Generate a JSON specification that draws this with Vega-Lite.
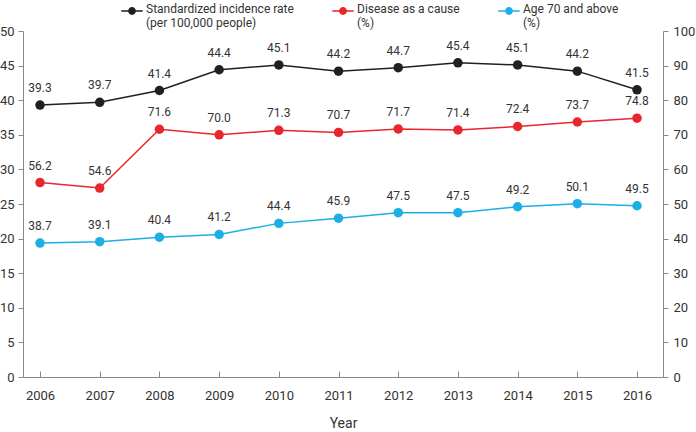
{
  "$schema": "https://vega.github.io/schema/vega-lite/v6.json",
  "width": 640,
  "height": 346,
  "autosize": {"type": "none"},
  "padding": {"left": 23, "top": 31, "right": 33, "bottom": 55},
  "background": "white",
  "config": {
    "font": "Liberation Sans Narrow, Roboto, sans-serif",
    "view": {"stroke": null},
    "axis": {"grid": false, "domainColor": "#888888", "tickColor": "#888888", "labelColor": "#333333", "labelFontSize": 13, "titleColor": "#333333", "titleFontWeight": "normal", "titleFontSize": 14}
  },
  "data": {
    "values": [
      {"year": 2006, "series": "Standardized incidence rate|(per 100,000 people)", "value": 39.3},
      {"year": 2007, "series": "Standardized incidence rate|(per 100,000 people)", "value": 39.7},
      {"year": 2008, "series": "Standardized incidence rate|(per 100,000 people)", "value": 41.4},
      {"year": 2009, "series": "Standardized incidence rate|(per 100,000 people)", "value": 44.4},
      {"year": 2010, "series": "Standardized incidence rate|(per 100,000 people)", "value": 45.1},
      {"year": 2011, "series": "Standardized incidence rate|(per 100,000 people)", "value": 44.2},
      {"year": 2012, "series": "Standardized incidence rate|(per 100,000 people)", "value": 44.7},
      {"year": 2013, "series": "Standardized incidence rate|(per 100,000 people)", "value": 45.4},
      {"year": 2014, "series": "Standardized incidence rate|(per 100,000 people)", "value": 45.1},
      {"year": 2015, "series": "Standardized incidence rate|(per 100,000 people)", "value": 44.2},
      {"year": 2016, "series": "Standardized incidence rate|(per 100,000 people)", "value": 41.5},
      {"year": 2006, "series": "Disease as a cause|(%)", "value": 56.2},
      {"year": 2007, "series": "Disease as a cause|(%)", "value": 54.6},
      {"year": 2008, "series": "Disease as a cause|(%)", "value": 71.6},
      {"year": 2009, "series": "Disease as a cause|(%)", "value": 70.0},
      {"year": 2010, "series": "Disease as a cause|(%)", "value": 71.3},
      {"year": 2011, "series": "Disease as a cause|(%)", "value": 70.7},
      {"year": 2012, "series": "Disease as a cause|(%)", "value": 71.7},
      {"year": 2013, "series": "Disease as a cause|(%)", "value": 71.4},
      {"year": 2014, "series": "Disease as a cause|(%)", "value": 72.4},
      {"year": 2015, "series": "Disease as a cause|(%)", "value": 73.7},
      {"year": 2016, "series": "Disease as a cause|(%)", "value": 74.8},
      {"year": 2006, "series": "Age 70 and above|(%)", "value": 38.7},
      {"year": 2007, "series": "Age 70 and above|(%)", "value": 39.1},
      {"year": 2008, "series": "Age 70 and above|(%)", "value": 40.4},
      {"year": 2009, "series": "Age 70 and above|(%)", "value": 41.2},
      {"year": 2010, "series": "Age 70 and above|(%)", "value": 44.4},
      {"year": 2011, "series": "Age 70 and above|(%)", "value": 45.9},
      {"year": 2012, "series": "Age 70 and above|(%)", "value": 47.5},
      {"year": 2013, "series": "Age 70 and above|(%)", "value": 47.5},
      {"year": 2014, "series": "Age 70 and above|(%)", "value": 49.2},
      {"year": 2015, "series": "Age 70 and above|(%)", "value": 50.1},
      {"year": 2016, "series": "Age 70 and above|(%)", "value": 49.5}
    ]
  },
  "encoding": {
    "x": {
      "field": "year", "type": "quantitative",
      "scale": {"domain": [2005.715, 2016.435], "nice": false, "zero": false},
      "axis": {"title": "Year", "values": [2006,2007,2008,2009,2010,2011,2012,2013,2014,2015,2016], "format": "d", "tickSize": -6, "labelPadding": 18, "titlePadding": 14}
    },
    "color": {
      "field": "series", "type": "nominal",
      "scale": {
        "domain": ["Standardized incidence rate|(per 100,000 people)", "Disease as a cause|(%)", "Age 70 and above|(%)"],
        "range": ["#231f20", "#e8262d", "#1eaee6"]
      },
      "legend": {
        "title": null, "orient": "none", "direction": "horizontal", "legendX": 99, "legendY": -27,
        "labelExpr": "split(datum.label, '|')", "labelFontSize": 12, "labelColor": "#333333",
        "labelBaseline": "top", "labelOffset": 4,
        "symbolType": "M-1.2,0H1.2M0.35,0A0.35,0.35,0,1,1,-0.35,0A0.35,0.35,0,1,1,0.35,0Z",
        "symbolSize": 320, "symbolStrokeWidth": 1.5, "columnPadding": 35,
        "encode": {"symbols": {"update": {"fill": {"scale": "color", "field": "value"}, "stroke": {"scale": "color", "field": "value"}, "yc": {"value": 7}}}, "labels": {"update": {"y": {"value": 0}}}}
      }
    }
  },
  "layer": [
    {
      "transform": [{"filter": "datum.series == 'Standardized incidence rate|(per 100,000 people)'"}],
      "encoding": {
        "y": {"field": "value", "type": "quantitative", "scale": {"domain": [0, 50], "nice": false}, "axis": {"title": null, "orient": "left", "values": [0,5,10,15,20,25,30,35,40,45,50], "tickSize": 5, "labelPadding": 4}}
      },
      "layer": [
        {"mark": {"type": "line", "strokeWidth": 1.5}},
        {"mark": {"type": "point", "filled": true, "size": 90, "opacity": 1}},
        {"mark": {"type": "text", "dy": -17, "fontSize": 12, "color": "#333333"}, "encoding": {"text": {"field": "value", "type": "quantitative", "format": ".1f"}, "color": {"value": "#333333"}}}
      ]
    },
    {
      "transform": [{"filter": "datum.series != 'Standardized incidence rate|(per 100,000 people)'"}],
      "encoding": {
        "y": {"field": "value", "type": "quantitative", "scale": {"domain": [0, 100], "nice": false}, "axis": {"title": null, "orient": "right", "values": [0,10,20,30,40,50,60,70,80,90,100], "tickSize": 5, "labelPadding": 5}}
      },
      "layer": [
        {"mark": {"type": "line", "strokeWidth": 1.5}},
        {"mark": {"type": "point", "filled": true, "size": 90, "opacity": 1}},
        {"mark": {"type": "text", "dy": -17, "fontSize": 12, "color": "#333333"}, "encoding": {"text": {"field": "value", "type": "quantitative", "format": ".1f"}, "color": {"value": "#333333"}}}
      ]
    }
  ],
  "resolve": {"scale": {"y": "independent"}, "axis": {"y": "independent"}}
}
